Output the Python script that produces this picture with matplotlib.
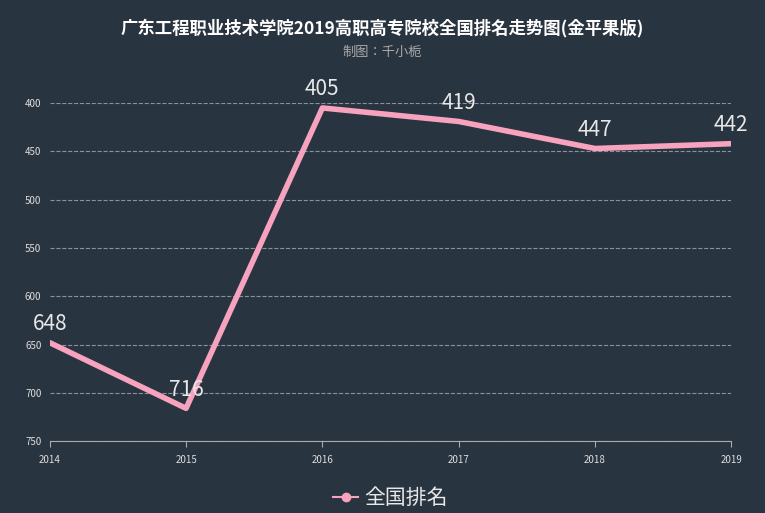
import matplotlib.pyplot as plt
from matplotlib import font_manager as fm

cjk = [f.name for f in fm.fontManager.ttflist if 'CJK' in f.name]
fams = []
for n in ['Noto Sans CJK SC', 'Noto Sans CJK JP']:
    if n in cjk:
        fams.append(n)
fams += cjk[:1] + ['DejaVu Sans']
plt.rcParams['font.family'] = fams

years = ['2014', '2015', '2016', '2017', '2018', '2019']
ranks = [648, 716, 405, 419, 447, 442]
bg = '#293441'

fig = plt.figure(figsize=(7.65, 5.13), dpi=100, facecolor=bg)
ax = fig.add_axes([0.065, 0.140, 0.891, 0.659], facecolor=bg)
x = list(range(len(years)))
ax.plot(x, ranks, color='#f7a3bd', lw=4, solid_capstyle='round', solid_joinstyle='round')
for xi, v in zip(x, ranks):
    ax.text(xi, v - 8, str(v), color='#e8e8e8', fontsize=15, ha='center', va='bottom')

ax.set_xlim(0, 5)
ax.set_ylim(750, 400)
ax.set_xticks(x)
ax.set_xticklabels(years)
ax.set_yticks(range(400, 751, 50))
ax.tick_params(colors='#dddddd', labelsize=7, length=0, pad=6)
ax.tick_params(axis='x', length=4, color='#aaaaaa')
for s in ['top', 'right', 'left']:
    ax.spines[s].set_visible(False)
ax.spines['bottom'].set_color('#aaaaaa')
ax.yaxis.grid(True, ls='--', color='#8a929b', lw=0.8)

fig.text(0.5, 0.945, '广东工程职业技术学院2019高职高专院校全国排名走势图(金平果版)',
         color='white', fontsize=12.5, fontweight='bold', ha='center', va='center')
fig.text(0.5, 0.898, '制图：千小栀', color='#aaaaaa', fontsize=9.5, ha='center', va='center')

ax.plot([], [], color='#f7a3bd', lw=1.5, marker='o', ms=6, label='全国排名')
leg = ax.legend(loc='upper center', bbox_to_anchor=(0.5, -0.08), frameon=False,
                fontsize=15, labelcolor='#e8e8e8', handlelength=1.2, handletextpad=0.3)
fig.savefig('out.png', dpi=100, facecolor=bg)
